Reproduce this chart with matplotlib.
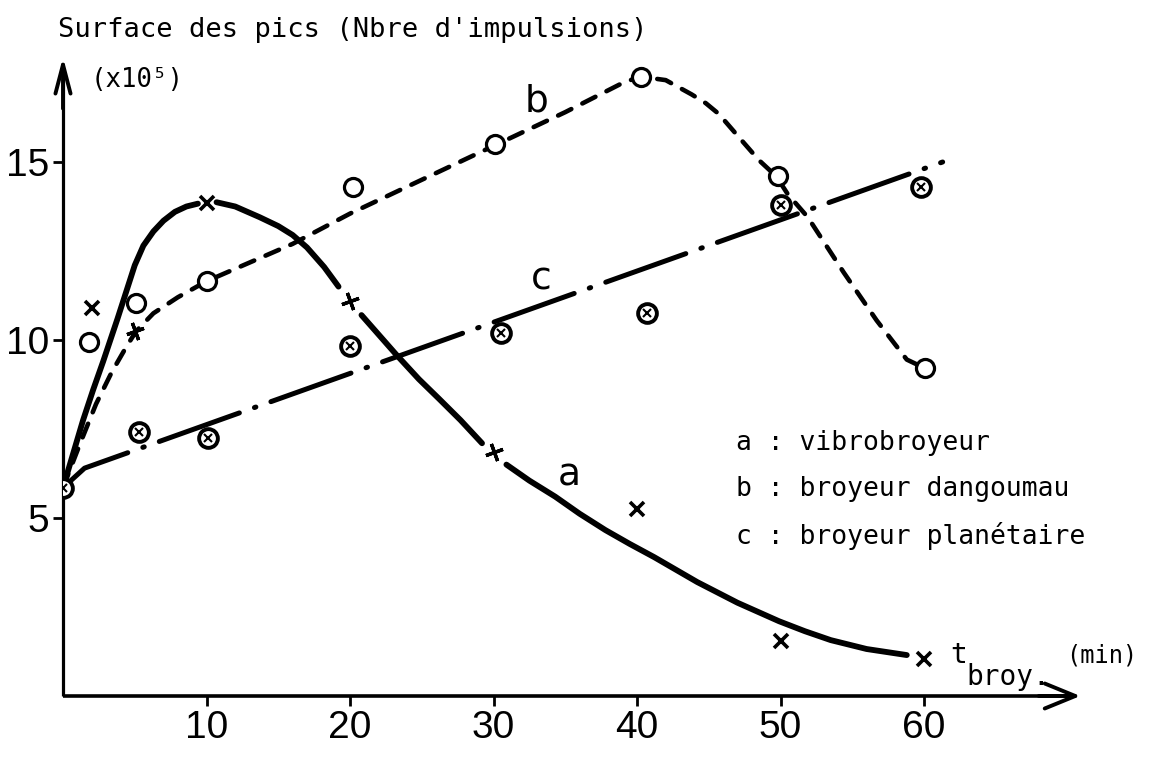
import numpy as np
import matplotlib
matplotlib.use("Agg")
import matplotlib.pyplot as plt

# ---------------- data ----------------
# measured points, series a (vibrobroyeur)
a_cross_t = [2, 10, 40, 50, 60]
a_cross_y = [10.9, 13.85, 5.25, 1.55, 1.05]
a_plus_t = [5, 20, 30]
a_plus_y = [10.25, 11.1, 6.85]
# series b (broyeur dangoumau)
b_t = [1.8, 5.1, 10.0, 20.2, 30.1, 40.3, 49.8, 60.1]
b_y = [9.95, 11.05, 11.65, 14.3, 15.5, 17.4, 14.6, 9.2]
# series c (broyeur planetaire), first point is the common start
c_t = [0, 5.3, 10.1, 20.0, 30.5, 40.7, 50.0, 59.8]
c_y = [5.85, 7.42, 7.25, 9.83, 10.2, 10.76, 13.8, 14.3]

# hand-drawn curves (nan = gap at a marker)
curve_a_t = [0, 0.7, 1.4, 2.1, 2.8, 3.3, 3.8, 4.4, 5.0, 5.6, 6.3, 7.0, 7.8, 8.6, 9.4,
             np.nan,
             10.7, 12.0, 13.7, 15.0, 16.0, 17.0, 18.2, 19.2,
             np.nan,
             20.8, 22.0, 23.2, 24.8, 26.2, 27.7, 29.2,
             np.nan,
             30.9, 32.5, 34.3, 36.0, 37.8, 39.5, 41.2, 42.7, 44.2, 47.0, 49.9,
             51.7, 53.5, 56.0, 58.8]
curve_a_y = [5.85, 6.8, 7.75, 8.6, 9.4, 10.0, 10.6, 11.35, 12.1, 12.65, 13.05, 13.35,
             13.6, 13.75, 13.83,
             np.nan,
             13.87, 13.75, 13.45, 13.2, 12.95, 12.6, 12.05, 11.5,
             np.nan,
             10.7, 10.15, 9.6, 8.9, 8.35, 7.75, 7.1,
             np.nan,
             6.5, 6.05, 5.6, 5.12, 4.66, 4.27, 3.9, 3.55, 3.2, 2.62, 2.1,
             1.82, 1.57, 1.32, 1.15]
curve_b_t = [0, 1.2, 2.3, 3.4, 4.4, 5.1, 6.3, 8.0, 10.0, 16.0, 20.0, 25.0, 30.0,
             35.0, 38.9, 40.2, 42.0, 43.8, 44.8, 45.7, 47.2, 48.5, 49.7, 50.5,
             51.9, 54.4, 56.7, 58.8, 60.1]
curve_b_y = [5.85, 7.1, 8.2, 9.1, 9.8, 10.25, 10.75, 11.2, 11.65, 12.7, 13.55, 14.5,
             15.45, 16.4, 17.2, 17.4, 17.3, 16.9, 16.65, 16.35, 15.65, 15.05, 14.6,
             14.1, 13.45, 11.9, 10.55, 9.45, 9.2]
curve_c_t = [0, 1.5, 61.3]
curve_c_y = [5.85, 6.4, 15.0]

x_ticks = [10, 20, 30, 40, 50, 60]
y_ticks = [5, 10, 15]
title = "Surface des pics (Nbre d'impulsions)"
unit = "(x10\u2075)"
legend_rows = ["a : vibrobroyeur", "b : broyeur dangoumau", "c : broyeur planétaire"]
curve_labels = [("a", 35.3, 6.2), ("b", 33.0, 16.7), ("c", 33.3, 11.7)]

# ---------------- figure ----------------
W, H = 1150, 758
fig = plt.figure(figsize=(W / 100, H / 100), dpi=100)
fig.patch.set_facecolor("white")

x0_px, y0_px = 63, 696          # data origin in pixels (from top-left)
xpu, ypu = 14.35, 35.6          # pixels per data unit
xmax, ymax = 75.0, 18.5
ax = fig.add_axes([x0_px / W, (H - y0_px) / H, xmax * xpu / W, ymax * ypu / H])
ax.set_xlim(0, xmax)
ax.set_ylim(0, ymax)
for s in ax.spines.values():
    s.set_visible(False)

mono = ["DejaVu Sans Mono"]
narrow = ["Liberation Sans", "DejaVu Sans"]
k = "black"

# axes with arrows
ax.plot([0, 0], [0, 17.6], color=k, lw=2.3, solid_capstyle="butt", clip_on=False)
ax.plot([0, 70.5], [0, 0], color=k, lw=2.6, solid_capstyle="butt", clip_on=False)
ax.annotate("", xy=(0, 17.95), xytext=(0, 16.5),
            arrowprops=dict(arrowstyle="->,head_length=1.3,head_width=0.34",
                            color=k, lw=2.8, mutation_scale=16, shrinkA=0, shrinkB=0),
            annotation_clip=False)
ax.annotate("", xy=(70.9, 0), xytext=(68.0, 0),
            arrowprops=dict(arrowstyle="->,head_length=1.1,head_width=0.45",
                            color=k, lw=2.8, mutation_scale=20, shrinkA=0, shrinkB=0),
            annotation_clip=False)

# ticks
ax.set_xticks(x_ticks)
ax.set_xticklabels([str(v) for v in x_ticks], fontfamily=narrow, fontsize=28)
ax.set_yticks(y_ticks)
ax.set_yticklabels([str(v) for v in y_ticks], fontfamily=narrow, fontsize=28)
ax.tick_params(axis="x", direction="out", length=7, width=2, pad=3, colors=k)
ax.tick_params(axis="y", direction="out", length=7, width=2, pad=3, colors=k)

# curves
ax.plot(curve_a_t, curve_a_y, color=k, lw=4.2, solid_capstyle="round",
        solid_joinstyle="round", zorder=3)
ax.plot(curve_b_t, curve_b_y, color=k, lw=3.3, linestyle=(0, (3.2, 2.7)),
        dash_capstyle="round", zorder=3)
ax.plot(curve_c_t, curve_c_y, color=k, lw=3.6, linestyle=(2, (17, 3.2, 0.3, 3.2)),
        dash_capstyle="round", zorder=3)

# markers
ax.plot(a_cross_t, a_cross_y, linestyle="none", marker="x", ms=10, mew=2.6,
        color=k, zorder=5)
ax.plot(a_plus_t, a_plus_y, linestyle="none", marker=(4, 2, 20), ms=13, mew=2.4,
        color=k, zorder=5)
ax.plot(b_t, b_y, linestyle="none", marker="o", ms=13, mew=2.3,
        mfc="white", mec=k, zorder=5)
ax.plot(c_t, c_y, linestyle="none", marker="o", ms=13.5, mew=2.8,
        mfc="white", mec=k, zorder=5)
ax.plot(c_t, c_y, linestyle="none", marker="x", ms=5.5, mew=1.5,
        color=k, zorder=6)

# curve labels
for lab, tx, ty in curve_labels:
    ax.text(tx, ty, lab, fontsize=27, fontfamily=["DejaVu Sans"], ha="center",
            va="center", zorder=6)

# legend rows
for i, row in enumerate(legend_rows):
    fig.text(736 / W, 1 - (443 + 46.5 * i) / H, row, fontfamily=mono, fontsize=19,
             ha="left", va="center")

# texts around the axes
fig.text(58 / W, 1 - 30 / H, title, fontfamily=mono, fontsize=19.5, ha="left",
         va="center")
fig.text(91 / W, 1 - 80 / H, unit, fontfamily=mono, fontsize=18.5, ha="left",
         va="center")
fig.text(950 / W, 1 - 655 / H, "t", fontfamily=mono, fontsize=20, ha="left",
         va="center")
fig.text(966 / W, 1 - 677 / H, "broy.", fontfamily=mono, fontsize=20, ha="left",
         va="center")
fig.text(1066 / W, 1 - 655 / H, "(min)", fontfamily=mono, fontsize=17, ha="left",
         va="center")

fig.savefig("out.png", dpi=100, facecolor="white")
